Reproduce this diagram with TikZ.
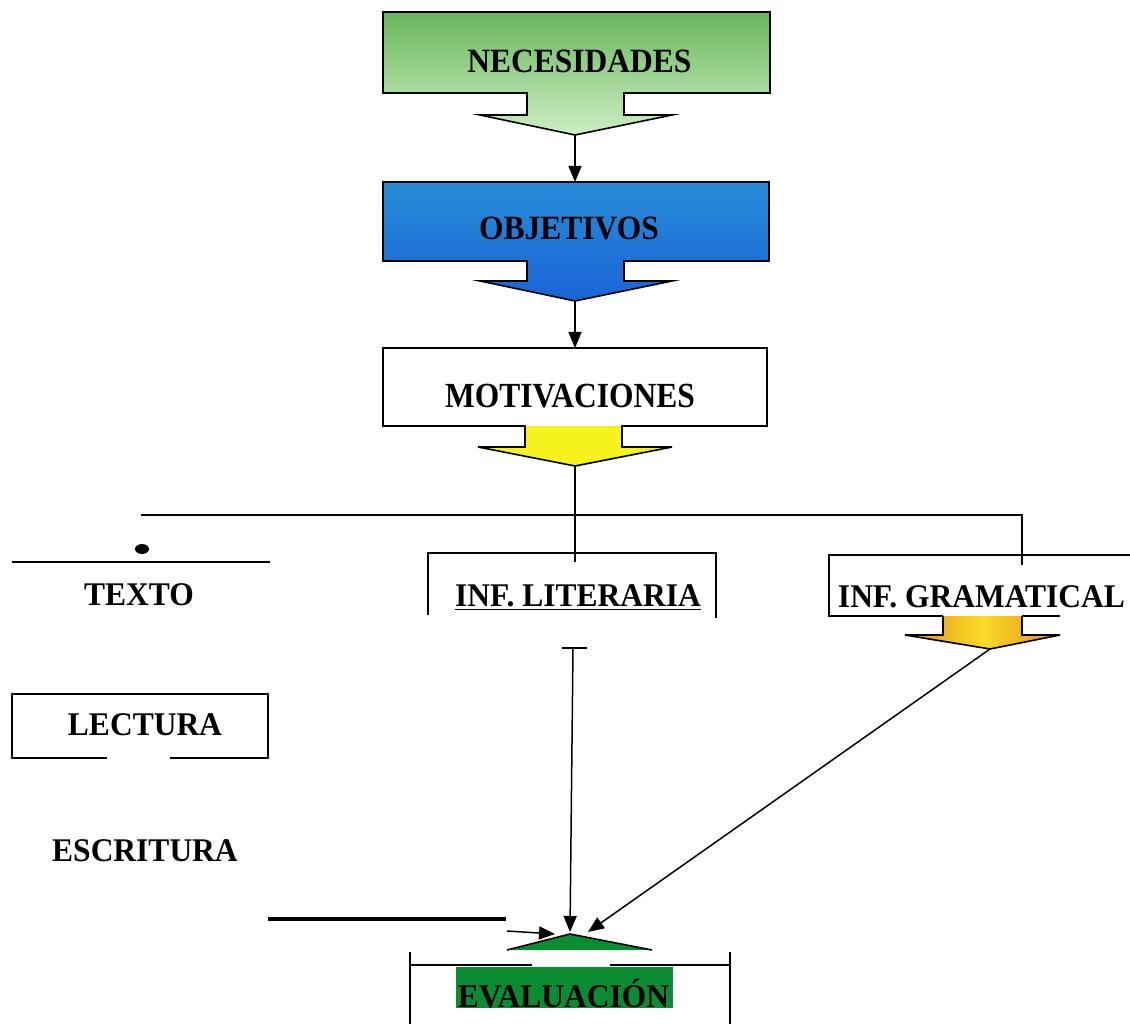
\documentclass[tikz,border=0pt]{standalone}
\usepackage{fontspec}
\setmainfont{Liberation Serif}
\usetikzlibrary{arrows.meta}
\definecolor{necTop}{RGB}{105,182,92}
\definecolor{necBot}{RGB}{205,238,195}
\definecolor{objTop}{RGB}{40,140,215}
\definecolor{objBot}{RGB}{25,100,215}
\definecolor{motYel}{RGB}{246,242,30}
\definecolor{graOr}{RGB}{228,140,25}
\definecolor{graYel}{RGB}{250,220,40}
\definecolor{evaGreen}{RGB}{10,140,50}
\begin{document}
\begin{tikzpicture}[x=1pt,y=-1pt,
  lbl/.style={font=\fontsize{31.5}{36}\selectfont\bfseries, inner sep=0pt, anchor=base},
  outline/.style={line width=1.6pt, line join=miter},
  conn/.style={line width=1.5pt, -{Triangle[length=16pt,width=13pt]}},
  plain/.style={line width=1.5pt}]
\useasboundingbox (0,0) rectangle (1130,1024);

% NECESIDADES block arrow
\draw[outline, top color=necTop, bottom color=necBot]
  (383,12) -- (770,12) -- (770,93) -- (624,93) -- (624,115) -- (672,115)
  -- (575,135) -- (480,115) -- (527,115) -- (527,93) -- (383,93) -- cycle;
\node[lbl] (nec) at (579.5,73) {\scalebox{1}[1.08]{NECESIDADES}};
\coordinate (necTip) at (575,135);
\coordinate (objTop) at (575,182);

% OBJETIVOS block arrow
\draw[outline, top color=objTop, bottom color=objBot]
  (383,182) -- (769,182) -- (769,261) -- (624,261) -- (624,281) -- (672,281)
  -- (575,301) -- (480,281) -- (527,281) -- (527,261) -- (383,261) -- cycle;
\node[lbl] (obj) at (569,240) {\scalebox{1}[1.08]{OBJETIVOS}};
\coordinate (objTip) at (575,301);
\coordinate (motTop) at (575,348);

% MOTIVACIONES
\fill[white] (383,348) rectangle (767,426);
\fill[motYel] (525,426) -- (622,426) -- (622,447) -- (672,447) -- (575,466)
  -- (478,447) -- (525,447) -- cycle;
\draw[outline]
  (383,348) -- (767,348) -- (767,426) -- (622,426) -- (622,447) -- (672,447)
  -- (575,466) -- (478,447) -- (525,447) -- (525,426) -- (383,426) -- cycle;
\node[lbl] (mot) at (570,407) {\scalebox{1}[1.12]{MOTIVACIONES}};
\coordinate (motTip) at (575,466);
\coordinate (litStub) at (575,562);

\draw[conn] (necTip) -- (objTop);
\draw[conn] (objTip) -- (motTop);
\draw[plain] (motTip) -- (litStub);

% distribution bar
\coordinate (barL) at (141,515);
\coordinate (barR) at (1022,515);
\coordinate (graStub) at (1022,565);
\draw[plain] (barL) -- (barR) -- (graStub);

% left column
\fill (142,549) ellipse [x radius=7, y radius=5];
\coordinate (texL) at (12,562);
\coordinate (texR) at (270,562);
\draw[plain] (texL) -- (texR);
\node[lbl] (texto) at (139,605) {\scalebox{1}[1.05]{TEXTO}};
\draw[outline] (107,758) -- (12,758) -- (12,694) -- (268,694) -- (268,758) -- (170,758);
\node[lbl] (lect) at (145,735) {\scalebox{1}[1.05]{LECTURA}};
\node[lbl] (escr) at (145,861) {\scalebox{1}[1.05]{ESCRITURA}};
\coordinate (thickL) at (268,919);
\coordinate (thickR) at (506,919);
\draw[line width=4pt] (thickL) -- (thickR);

% INF. LITERARIA
\draw[outline] (428,615) -- (428,553) -- (716,553) -- (716,618);
\node[lbl] (lit) at (578,606) {\scalebox{1}[1.05]{INF. LITERARIA}};
\draw[line width=1.8pt] ([yshift=-3.5pt]lit.base west) -- ([yshift=-3.5pt]lit.base east);
\coordinate (litOut) at (573,648);
\coordinate (litTL) at (562,648);
\coordinate (litTR) at (587,648);
\draw[plain] (litTL) -- (litTR);

% INF. GRAMATICAL
\draw[outline] (1130,555) -- (829,555) -- (829,616) -- (943,616);
\draw[outline] (1022,616) -- (1060,616);
\draw[outline, left color=graOr, right color=graOr, middle color=graYel]
  (943,616) -- (943,635) -- (905,635) -- (990,649) -- (1060,635) -- (1022,635) -- (1022,616);
\node[lbl] (gra) at (981.5,607) {\scalebox{1}[1.05]{INF. GRAMATICAL}};
\coordinate (graTip) at (990,649);

% EVALUACION
\fill[evaGreen] (510,950) -- (570,934) -- (652,950) -- cycle;
\draw[outline] (507,950) -- (570,934) -- (652,950);
\coordinate (evaTipA) at (570,932);
\coordinate (evaTipB) at (588,932);
\coordinate (evaTipC) at (555,934);
\coordinate (smallS) at (507,931);
\draw[outline] (410,952) -- (410,1024);
\draw[outline] (730,952) -- (730,1024);
\draw[outline] (410,965) -- (532,965);
\draw[outline] (610,965) -- (730,965);
\fill[evaGreen] (456,967) rectangle (673,1008);
\node[lbl] (eva) at (563.5,1007) {\scalebox{1}[1.05]{EVALUACIÓN}};

\draw[conn] (litOut) -- (evaTipA);
\draw[conn] (graTip) -- (evaTipB);
\draw[conn] (smallS) -- (evaTipC);
\end{tikzpicture}
\end{document}
